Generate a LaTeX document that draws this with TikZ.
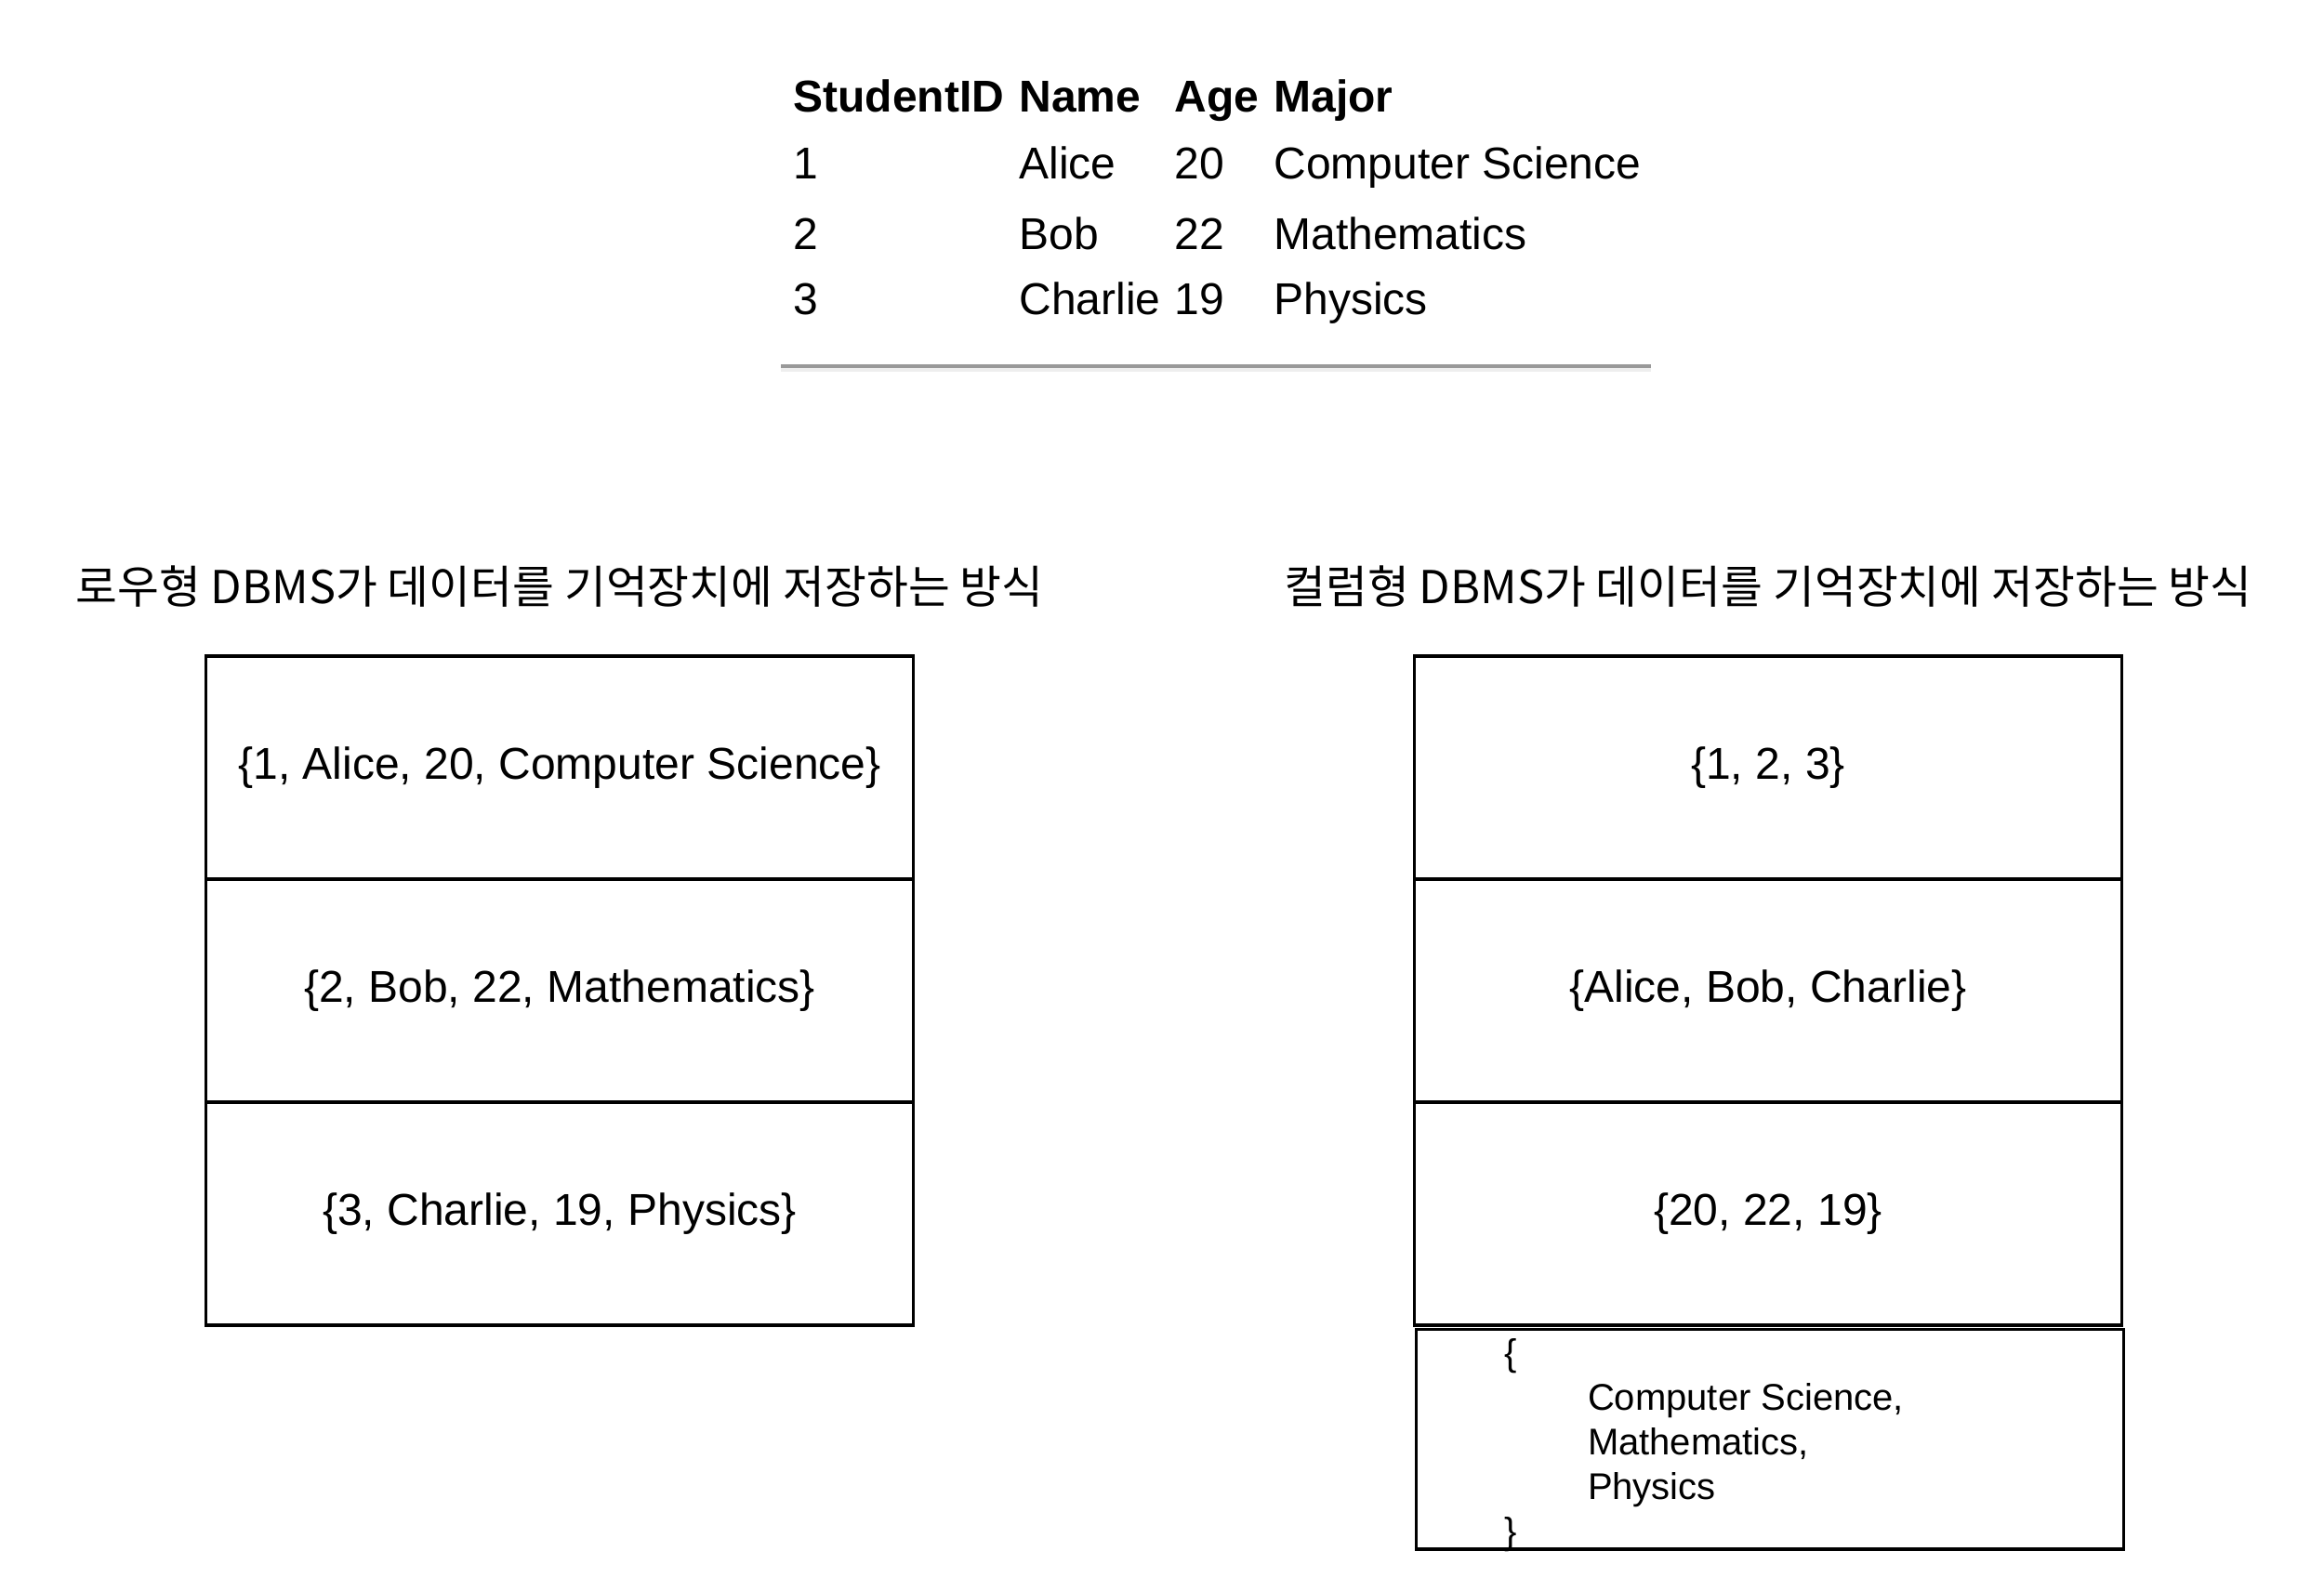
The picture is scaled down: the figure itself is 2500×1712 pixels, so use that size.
\documentclass[tikz,border=0pt]{standalone}
\usepackage{fontspec}
\setmainfont{Liberation Sans}
\newfontfamily\kr{Noto Sans CJK KR}
\definecolor{mygray}{RGB}{153, 153, 153}
\definecolor{mylightgray}{RGB}{238, 238, 238}
\usetikzlibrary{positioning}

\begin{document}
\begin{tikzpicture}[x = 0.4pt, y = -0.4pt,
	cellbox/.style = {draw, line width = 1.3pt, minimum width = 304.4pt, minimum height = 96pt, inner sep = 0pt, outer sep = 0pt, font = \fontsize{19.2}{23}\selectfont},
	tabtext/.style = {anchor = base west, inner sep = 0pt, font = \fontsize{19.2}{23}\selectfont},
	tabhead/.style = {tabtext, font = \bfseries\fontsize{19.2}{23}\selectfont},
	captext/.style = {anchor = base, inner sep = 0pt, font = \kr\fontsize{19.5}{23.4}\selectfont}]
	\useasboundingbox (0,0) rectangle (2500,1712);

	% table
	\node[tabhead] (hid) at (853,120) {StudentID};
	\node[tabhead] (hname) at (1096,120) {Name};
	\node[tabhead] (hage) at (1263,120) {Age};
	\node[tabhead] (hmajor) at (1370,120) {Major};
	\foreach \sid/\sname/\sage/\smajor/\y in {1/Alice/20/Computer Science/192, 2/Bob/22/Mathematics/268, 3/Charlie/19/Physics/338} {
		\node[tabtext] (id\sid) at (853,\y) {\sid};
		\node[tabtext] (name\sid) at (1096,\y) {\sname};
		\node[tabtext] (age\sid) at (1263,\y) {\sage};
		\node[tabtext] (major\sid) at (1370,\y) {\smajor};
	}
	\fill[mygray] (840,392) rectangle (1776,396);
	\fill[mylightgray] (840,396) rectangle (1776,400);

	% row store
	\node[captext] (ltitle) at (602,649) {로우형 DBMS가 데이터를 기억장치에 저장하는 방식};
	\node[cellbox] (l1) at (602,826) {\{1, Alice, 20, Computer Science\}};
	\node[cellbox, below = 0pt of l1] (l2) {\{2, Bob, 22, Mathematics\}};
	\node[cellbox, below = 0pt of l2] (l3) {\{3, Charlie, 19, Physics\}};

	% column store
	\node[captext] (rtitle) at (1902,649) {컬럼형 DBMS가 데이터를 기억장치에 저장하는 방식};
	\node[cellbox] (r1) at (1902,826) {\{1, 2, 3\}};
	\node[cellbox, below = 0pt of r1] (r2) {\{Alice, Bob, Charlie\}};
	\node[cellbox, below = 0pt of r2] (r3) {\{20, 22, 19\}};
	\node[cellbox, minimum height = 94.6pt, below = 1.8pt of r3, xshift = 0.8pt] (r4) {};
	\node[anchor = west, align = left, inner sep = 0pt, font = \fontsize{16}{19.2}\selectfont] (r4text) at ([xshift = 37.6pt, yshift = -2.4pt]r4.west)
		{\{\\\hspace*{36pt}Computer Science,\\\hspace*{36pt}Mathematics,\\\hspace*{36pt}Physics\\\}};
\end{tikzpicture}
\end{document}
